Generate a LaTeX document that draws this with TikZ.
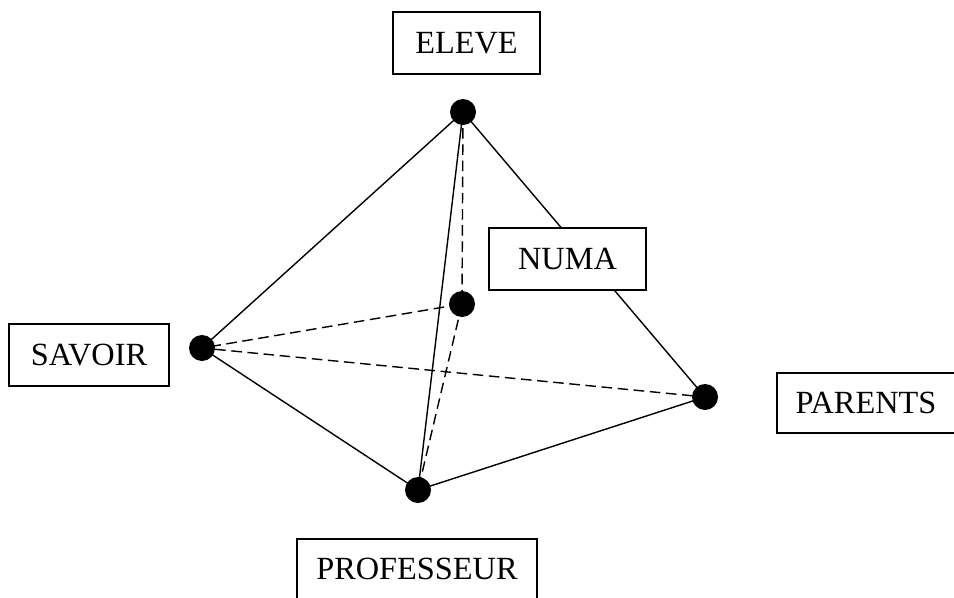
\documentclass[tikz,border=0pt]{standalone}
\usepackage{fontspec}
\setmainfont{Liberation Serif}
\begin{document}
\begin{tikzpicture}[x=0.025cm,y=-0.025cm,
	box/.style={draw,line width=1pt,fill=white,inner sep=0pt,font=\fontsize{23}{27}\selectfont},
	vertex/.style={circle,fill=black,inner sep=0pt,minimum size=26*0.025cm},
	hidden/.style={dash pattern=on 7.5pt off 4pt,line width=1pt}]
		\useasboundingbox(0,0)rectangle(954,598);
		% sommets du tetraedre
		\coordinate(E)at(463,112);
		\coordinate(N)at(462,304);
		\coordinate(S)at(202,348);
		\coordinate(P)at(705,397);
		\coordinate(R)at(418,490);
		\draw[line width=1pt](E)--(S)--(R)--(P)--(E)--(R);
		\draw[hidden](E)--(N)--(S)--(P)(N)--(R);
		% etiquettes
		\node[box,minimum width=147*0.025cm,minimum height=62*0.025cm](eleve)at(466.5,43){ELEVE};
		\node[box,minimum width=157*0.025cm,minimum height=62*0.025cm](numa)at(567.5,259){NUMA\hspace{15pt}};
		\node[box,minimum width=160*0.025cm,minimum height=62*0.025cm](savoir)at(89,355){SAVOIR};
		\node[box,minimum width=178*0.025cm,minimum height=60*0.025cm](parents)at(866,403){PARENTS};
		\node[box,minimum width=240*0.025cm,minimum height=60*0.025cm](prof)at(417,569){PROFESSEUR};
		\foreach \v in {E,N,S,P,R}
			\node[vertex](dot\v)at(\v){};
	\end{tikzpicture}
\end{document}
